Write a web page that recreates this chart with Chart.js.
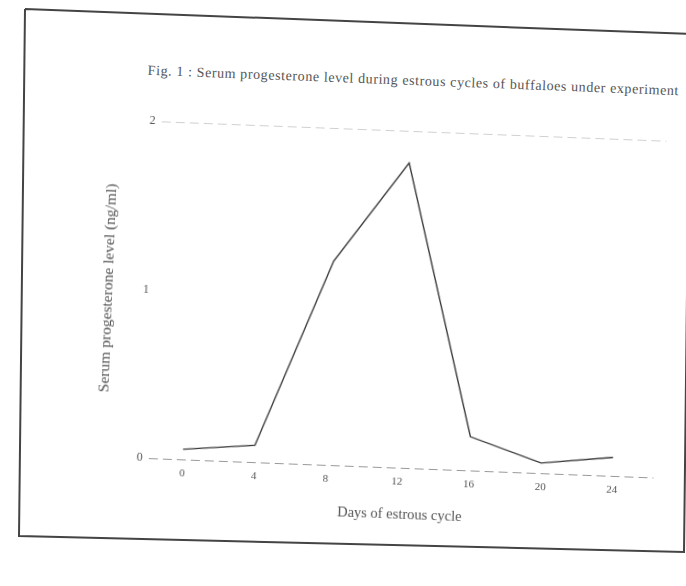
<!DOCTYPE html>
<html>
<head>
<meta charset="utf-8">
<script src="https://cdn.jsdelivr.net/npm/chart.js@4.4.0/dist/chart.umd.min.js"></script>
<style>
  html, body { margin: 0; padding: 0; background: #fff; }
  body { width: 686px; height: 586px; overflow: hidden; position: relative; }
  #frame { position: absolute; left: 0; top: 0; }
  #sheet {
    position: absolute; left: 25px; top: 9px; width: 720px; height: 560px;
    transform-origin: 0 0; transform: rotate(2.2deg);
  }
  #fig-title {
    position: absolute; left: 125px; top: 49px; white-space: nowrap;
    font: 14px "Liberation Serif", serif; color: #555; letter-spacing: 0.6px;
  }
  #chart-box { position: absolute; left: 0; top: 80px; width: 680px; height: 435px; }
</style>
</head>
<body>
<svg id="frame" width="686" height="586">
  <polyline points="25,9 690,34 684,552 19,536 25,9" fill="none" stroke="#444" stroke-width="2"/>
</svg>
<div id="sheet">
  <div id="fig-title">Fig. 1 : Serum progesterone level during estrous cycles of buffaloes under experiment</div>
  <div id="chart-box"><canvas id="myChart"></canvas></div>
</div>
<script>
// values
const days = [0, 4, 8, 12, 16, 20, 24];
const progesterone = [0.06, 0.10, 1.21, 1.81, 0.20, 0.06, 0.11];
const yTicks = [0, 1, 2];

const serif = '"Liberation Serif", serif';
const inkColor = '#555';

const myChart = new Chart(
    document.getElementById('myChart'),
    {
        type: 'line',
        data: {
            datasets: [{
                label: 'Serum progesterone',
                data: days.map((d, i) => ({x: d, y: progesterone[i]})),
                fill: false,
                borderColor: '#3a3a3a',
                borderWidth: 1.4,
                pointRadius: 0,
                tension: 0
            }]
        },
        options: {
            responsive: true,
            maintainAspectRatio: false,
            animation: false,
            layout: {padding: {left: 80, right: 34, top: 27, bottom: 0}},
            plugins: {legend: {display: false}, tooltip: {enabled: false}},
            scales: {
                x: {
                    type: 'linear',
                    min: -1.9,
                    max: 26.3,
                    afterBuildTicks: scale => { scale.ticks = days.map(v => ({value: v})); },
                    afterFit: scale => { scale.height = 71; },
                    grid: {display: false, drawTicks: false},
                    border: {display: false},
                    ticks: {padding: 8, color: inkColor, font: {family: serif, size: 11}},
                    title: {
                        display: true,
                        text: 'Days of estrous cycle',
                        color: inkColor,
                        font: {family: serif, size: 14.5},
                        padding: {top: 0, bottom: 15}
                    }
                },
                y: {
                    min: 0,
                    max: 2,
                    afterBuildTicks: scale => { scale.ticks = yTicks.map(v => ({value: v})); },
                    afterFit: scale => { scale.width = 60.8; },
                    grid: {
                        drawTicks: false,
                        color: ctx => ctx.tick.value === 0 ? '#999' : (ctx.tick.value === 2 ? '#d0d0d0' : 'rgba(0,0,0,0)')
                    },
                    border: {display: false, dash: [9, 5]},
                    ticks: {padding: 6, color: inkColor, font: {family: serif, size: 12}},
                    title: {
                        display: true,
                        text: 'Serum progesterone level (ng/ml)',
                        color: inkColor,
                        font: {family: serif, size: 15.5},
                        padding: {top: 5, bottom: 0}
                    }
                }
            }
        }
    }
);
</script>
</body>
</html>
